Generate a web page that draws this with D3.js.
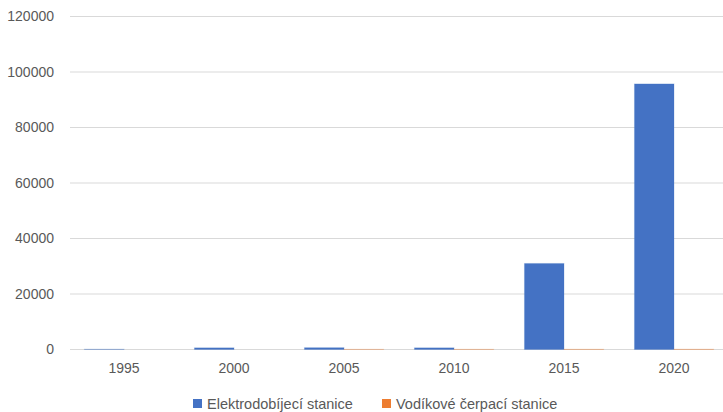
<!DOCTYPE html>
<html>
<head>
<meta charset="utf-8">
<script src="https://cdn.jsdelivr.net/npm/d3@7"></script>
<style>
  body { margin: 0; background: #fff; }
  text { font-family: "Liberation Sans", Arial, sans-serif; fill: #595959; }
</style>
</head>
<body>
<div id="chart"></div>
<script>
// data
var years = ["1995", "2000", "2005", "2010", "2015", "2020"];
var seriesNames = ["Elektrodobíjecí stanice", "Vodíkové čerpací stanice"];
var elektro = [100, 600, 650, 600, 31000, 95700];
var vodik = [0, 0, 60, 70, 80, 90];
var yTicks = [0, 20000, 40000, 60000, 80000, 100000, 120000];
var colors = ["#4472c4", "#ed7d31"];

var W = 723, H = 412;

var svg = d3.select("#chart")
  .append("svg")
    .attr("width", W)
    .attr("height", H);

var x = d3.scaleBand().domain(years).range([69, 729]);
var x2 = d3.scaleBand().domain([0, 1]).range([0, x.bandwidth()]).paddingInner(0).paddingOuter(0.39);
var y = d3.scaleLinear().domain([0, 120000]).range([349.5, 16.5]);

// gridlines
svg.append("g")
  .selectAll("line")
  .data(yTicks)
  .enter()
  .append("line")
    .attr("x1", 70)
    .attr("x2", W)
    .attr("y1", d => y(d))
    .attr("y2", d => y(d))
    .attr("stroke", "#d9d9d9")
    .attr("stroke-width", 1);

// y axis labels
var yAxis = svg.append("g")
  .attr("transform", "translate(54,0)")
  .call(d3.axisLeft(y).tickValues(yTicks).tickFormat(d3.format("d")).tickSize(0).tickPadding(0));
yAxis.select(".domain").remove();
yAxis.selectAll("text")
  .attr("font-size", "14px")
  .attr("font-family", "Liberation Sans, Arial, sans-serif")
  .attr("fill", "#595959");

// bars
var table = years.map((yr, i) => ({ year: yr, vals: [elektro[i], vodik[i]] }));
var groups = svg.append("g")
  .selectAll("g")
  .data(table)
  .enter()
  .append("g")
    .attr("transform", d => "translate(" + x(d.year) + ",0)");

groups.selectAll("rect")
  .data(d => d.vals)
  .enter()
  .append("rect")
    .attr("x", (d, i) => x2(i))
    .attr("width", x2.bandwidth())
    .attr("y", d => y(d))
    .attr("height", d => y(0) - y(d))
    .attr("fill", (d, i) => colors[i])
    .attr("stroke", (d, i) => d > 0 ? colors[i] : "none")
    .attr("stroke-opacity", 0.25)
    .attr("stroke-width", 1);

// x axis labels
var xAxis = svg.append("g")
  .attr("transform", "translate(0,363)")
  .call(d3.axisBottom(x).tickSize(0).tickPadding(0));
xAxis.select(".domain").remove();
xAxis.selectAll("text")
  .attr("font-size", "14px")
  .attr("font-family", "Liberation Sans, Arial, sans-serif")
  .attr("fill", "#595959");

// legend
var legendX = [193, 382];
var legend = svg.append("g")
  .selectAll("g")
  .data(seriesNames)
  .enter()
  .append("g")
    .attr("transform", (d, i) => "translate(" + legendX[i] + ",399)");

legend.append("rect")
  .attr("width", 9)
  .attr("height", 9)
  .attr("fill", (d, i) => colors[i]);

legend.append("text")
  .attr("x", 14)
  .attr("y", 5)
  .attr("dy", "0.35em")
  .attr("font-size", "14.5px")
  .text(d => d);
</script>
</body>
</html>
